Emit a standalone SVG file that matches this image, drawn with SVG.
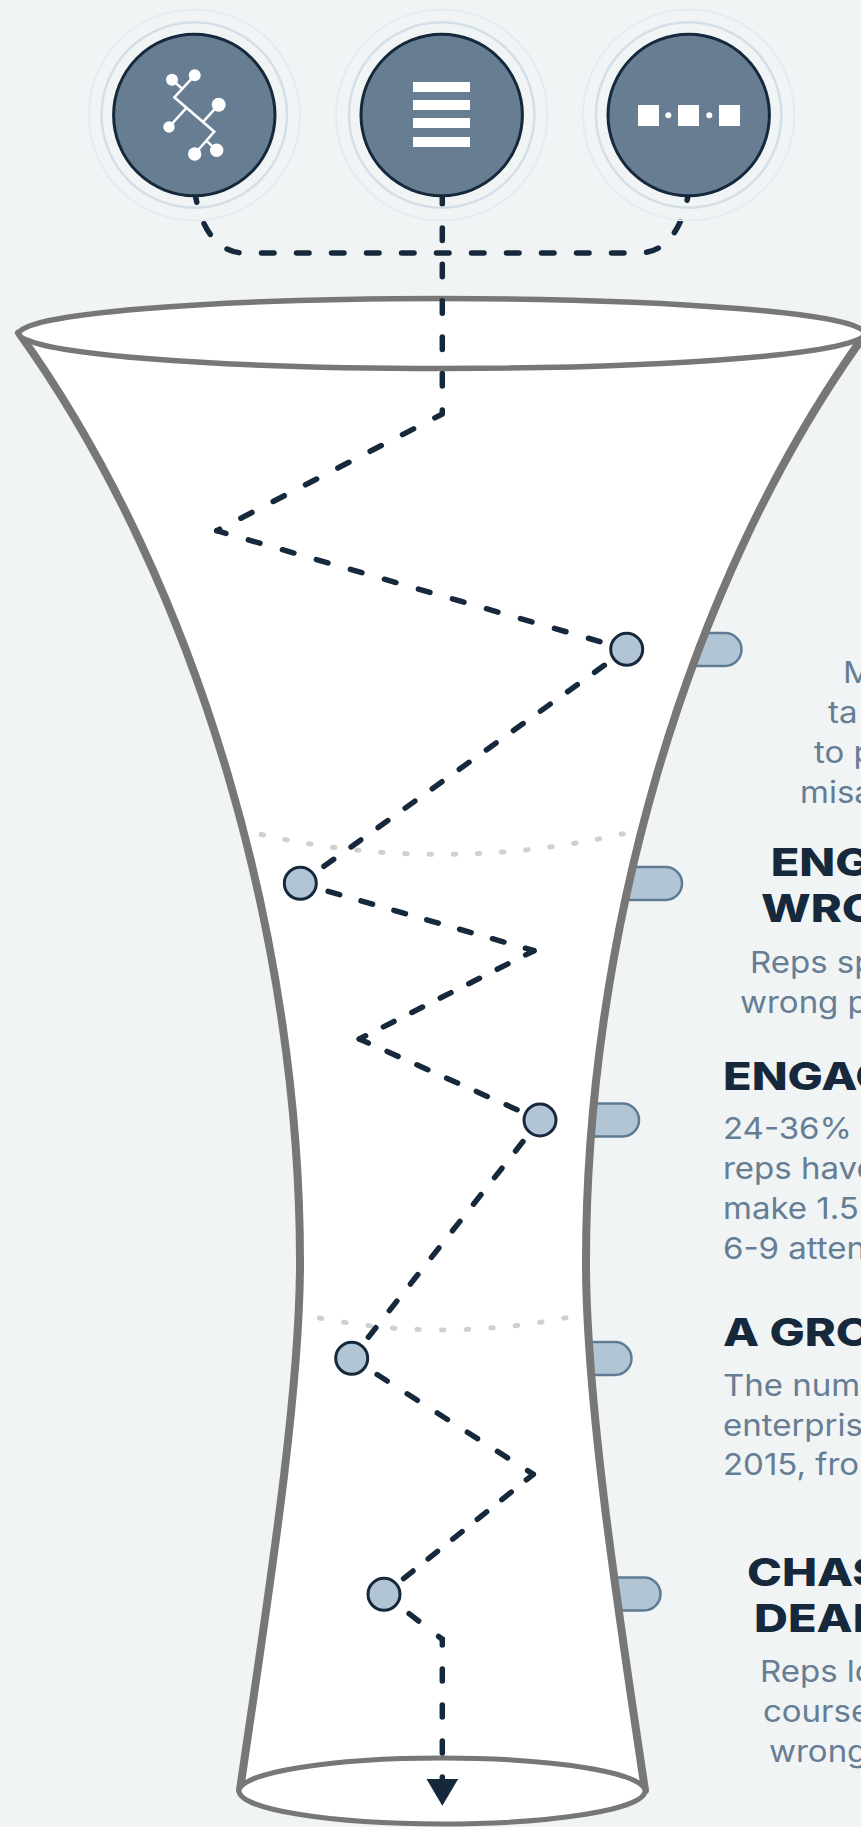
<svg xmlns="http://www.w3.org/2000/svg" width="861" height="1827" viewBox="0 0 861 1827">
<style>
.bg{fill:#f0f4f5}
.pill{fill:#b1c5d4;stroke:#5f7b94;stroke-width:2.5}
.wall{fill:#fff;stroke:#777;stroke-width:8;stroke-linejoin:round}
.rim{fill:#fff;stroke:#777;stroke-width:5.5}
.dots{fill:none;stroke:#d0d0d0;stroke-width:5;stroke-linecap:round}
.dash{fill:none;stroke:#16283b;stroke-width:5.5;stroke-linecap:round;stroke-linejoin:round}
.r3{fill:none;stroke:#e5ebf0;stroke-width:2}
.r2{fill:none;stroke:#d3dfe8;stroke-width:2.5}
.disc{fill:#677d92;stroke:#16283b;stroke-width:3}
.dot{fill:#b1c5d4;stroke:#16283b;stroke-width:3}
.ico{fill:#fff}
.lnk{fill:none;stroke:#fff;stroke-width:2.5}
.t{font-family:"Inter","Liberation Sans",sans-serif;font-size:38.5px;font-weight:800;fill:#16283b}
.b{font-family:"Inter","Liberation Sans",sans-serif;font-size:30px;font-weight:400;fill:#667d93}
</style>
<defs>
<marker id="tip" markerUnits="userSpaceOnUse" markerWidth="28" markerHeight="32" refX="0" refY="16" orient="auto" viewBox="0 0 28 32"><polygon points="0,0 27,16 0,32" fill="#16283b"/></marker>
</defs>
<rect class="bg" width="861" height="1827"/>
<g id="pills">
<rect class="pill" x="660" y="633" width="81.500" height="33" rx="16.500"/>
<rect class="pill" x="600" y="867" width="82" height="33" rx="16.500"/>
<rect class="pill" x="560" y="1103.500" width="79" height="33" rx="16.500"/>
<rect class="pill" x="550" y="1342" width="81.500" height="33" rx="16.500"/>
<rect class="pill" x="580" y="1577.500" width="80.500" height="33" rx="16.500"/>
</g>
<g id="funnel">
<path class="wall" d="M866,333 C680,590 586,950 586,1262 C586,1400 618,1610 645,1790 L240,1790 C266,1610 300,1400 300,1262 C300,950 203,590 19,333 Z"/>
<ellipse class="rim" cx="442" cy="333.500" rx="423" ry="35"/>
<ellipse class="rim" cx="442" cy="1791" rx="203" ry="33" style="stroke-width:5"/>
<path class="dots" style="stroke-dasharray:2.500 21.700" d="M261,834.500 Q442,874.700 623.300,833.700"/>
<path class="dots" style="stroke-dasharray:2.500 22.100" d="M319.300,1318 Q443,1342 566,1317.700"/>
</g>
<g id="connectors">
<path class="dash" style="stroke-dasharray:12.500 22.500" d="M194.500,190 C198,215 210,253 245,253 H638.400 C673.400,253 685.400,215 688.900,190"/>
<path class="dash" style="stroke-dasharray:12.500 23.900" d="M442.300,191.500 V414 L216.700,530.700"/>
<path class="dash" style="stroke-dasharray:12 23.400;stroke-dashoffset:-33" d="M216.700,530.700 L626.700,649.300"/>
<path class="dash" style="stroke-dasharray:12 21.300;stroke-dashoffset:-27.500" d="M626.700,649.300 L300.300,883.300"/>
<path class="dash" style="stroke-dasharray:12 22.200;stroke-dashoffset:-29" d="M300.300,883.300 L534,950.700"/>
<path class="dash" style="stroke-dasharray:12 19.900;stroke-dashoffset:-29.200" d="M534,950.700 L359.300,1039"/>
<path class="dash" style="stroke-dasharray:12 20.600;stroke-dashoffset:-30.500" d="M359.300,1039 L540,1120"/>
<path class="dash" style="stroke-dasharray:12 21.900;stroke-dashoffset:-27.500" d="M540,1120 L351.700,1358.300"/>
<path class="dash" style="stroke-dasharray:12 23.700;stroke-dashoffset:-30.200" d="M351.700,1358.300 L533.300,1474.300"/>
<path class="dash" style="stroke-dasharray:12 19.500;stroke-dashoffset:-28.400" d="M533.300,1474.300 L384,1594.300"/>
<path class="dash" style="stroke-dasharray:12 25.300;stroke-dashoffset:-31.700" d="M384,1594.300 L442.300,1639.300"/>
<path class="dash" style="stroke-dasharray:12 24;stroke-dashoffset:-29.700" marker-end="url(#tip)" d="M442.300,1639.300 V1778.700"/>
</g>
<g id="node-tree">
<circle class="r3" cx="194.300" cy="115" r="105.600"/><circle class="r2" cx="194.300" cy="115" r="92.700"/><circle class="disc" cx="194.300" cy="115" r="80.700"/>
<path class="lnk" d="M194.700,75.300 L174.300,97.300 L214.300,131.700 L194.700,154 M172,79.700 L181.700,88.300 M186,108.300 L169,127 M203.300,121.700 L218.700,104.700 M207.300,141.700 L216.700,150.300"/>
<g class="ico"><circle cx="194.700" cy="75.300" r="6"/><circle cx="172" cy="79.700" r="6"/><circle cx="218.700" cy="104.700" r="7"/><circle cx="169" cy="127" r="5.700"/><circle cx="194.700" cy="154" r="6.700"/><circle cx="216.700" cy="150.300" r="6.700"/></g>
</g>
<g id="node-stack">
<circle class="r3" cx="441.700" cy="115" r="105.600"/><circle class="r2" cx="441.700" cy="115" r="92.700"/><circle class="disc" cx="441.700" cy="115" r="80.700"/>
<g class="ico"><rect x="413" y="82" width="57" height="10"/><rect x="413" y="100" width="57" height="10"/><rect x="413" y="118" width="57" height="10"/><rect x="413" y="137" width="57" height="10"/></g>
</g>
<g id="node-chain">
<circle class="r3" cx="688.700" cy="115" r="105.600"/><circle class="r2" cx="688.700" cy="115" r="92.700"/><circle class="disc" cx="688.700" cy="115" r="80.700"/>
<g class="ico"><rect x="638" y="105" width="21" height="21"/><rect x="678" y="105" width="21" height="21"/><rect x="719" y="105" width="21" height="21"/><circle cx="668.300" cy="115.300" r="3"/><circle cx="709.300" cy="115.300" r="3"/></g>
</g>
<g id="stops">
<circle class="dot" cx="626.700" cy="649.300" r="16"/>
<circle class="dot" cx="300.300" cy="883.300" r="16"/>
<circle class="dot" cx="540" cy="1120" r="16"/>
<circle class="dot" cx="351.700" cy="1358.300" r="16"/>
<circle class="dot" cx="384" cy="1594.300" r="16"/>
</g>
<g id="labels">
<text class="b" transform="translate(843,683) scale(1.100,1)">M</text>
<text class="b" transform="translate(828,723) scale(1.100,1)">ta</text>
<text class="b" transform="translate(814,763) scale(1.100,1)">to p</text>
<text class="b" transform="translate(800,803) scale(1.100,1)">misa</text>
<text class="t" transform="translate(770.700,876) scale(1.220,1)">ENG</text>
<text class="t" transform="translate(761,921.700) scale(1.220,1)">WRO</text>
<text class="b" transform="translate(750,972.700) scale(1.100,1)">Reps sp</text>
<text class="b" transform="translate(740,1013) scale(1.100,1)">wrong p</text>
<text class="t" transform="translate(723,1090) scale(1.220,1)">ENGAG</text>
<text class="b" transform="translate(723,1139) scale(1.100,1)">24-36%</text>
<text class="b" transform="translate(723,1179) scale(1.100,1)">reps have</text>
<text class="b" transform="translate(723,1219) scale(1.100,1)">make 1.5</text>
<text class="b" transform="translate(723,1259) scale(1.100,1)">6-9 atten</text>
<text class="t" transform="translate(723,1346) scale(1.220,1)">A GRO</text>
<text class="b" transform="translate(723,1396) scale(1.100,1)">The num</text>
<text class="b" transform="translate(723,1436) scale(1.100,1)">enterpris</text>
<text class="b" transform="translate(723,1475) scale(1.100,1)">2015, fro</text>
<text class="t" transform="translate(747,1586) scale(1.220,1)">CHAS</text>
<text class="t" transform="translate(754,1632) scale(1.220,1)">DEAL</text>
<text class="b" transform="translate(760,1682) scale(1.100,1)">Reps lo</text>
<text class="b" transform="translate(763,1722) scale(1.100,1)">course</text>
<text class="b" transform="translate(769,1762) scale(1.100,1)">wrong</text>
</g>
</svg>
